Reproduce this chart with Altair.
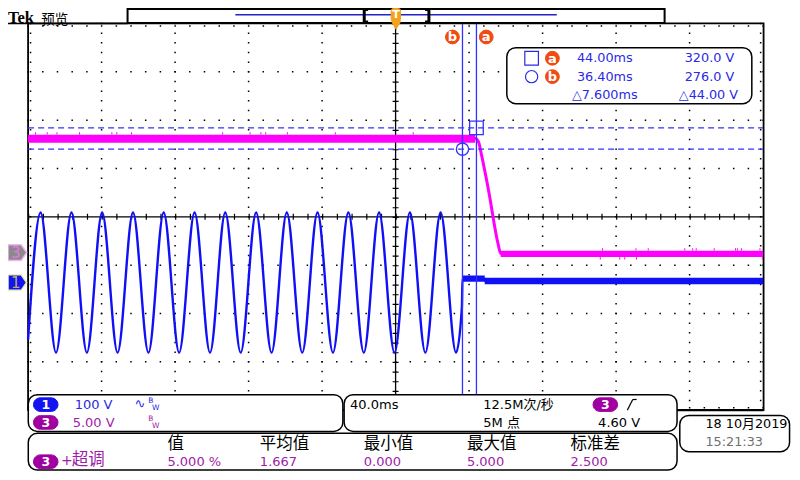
import altair as alt
import pandas as pd

# ------------------------------------------------------------------ data
# Channel 1 (blue, 100 V/div): sine read peak by peak, then the flat level after the cut
ch1_t = [-200.0, -193.2, -184.8, -176.4, -168.0, -159.7, -151.3, -142.9, -134.5,
         -126.2, -117.8, -109.4, -101.0, -92.7, -84.3, -75.9, -67.5, -59.2, -50.8,
         -42.5, -34.1, -25.7, -17.3, -9.0, -0.6, 7.8, 16.2, 24.5, 32.9, 36.1,
         36.4, 48.5, 48.7, 200.0]
ch1_v = [-118, 145, -145, 145, -145, 145, -145, 145, -145,
         145, -145, 145, -145, 145, -145, 145, -145, 145, -145,
         145, -145, 145, -145, 145, -145, 145, -145, 145, -145, -50,
         8, 8, 3, 3]
# noisy flat part of channel 1 (band)
ch1_band_t0 = [36.4, 48.5]
ch1_band_t1 = [48.5, 200.0]
ch1_band_lo = [1.4, -3.4]
ch1_band_hi = [14.6, 10.0]

# Channel 3 (magenta, 5 V/div)
ch3_t = [-200.0, 43.3, 45.1, 46.9, 50.4, 55.7, 57.2, 200.0]
ch3_v = [11.8, 11.8, 11.47, 9.97, 6.63, 0.97, -0.1, -0.1]
ch3_band_t0 = [-200.0, 57.2]
ch3_band_t1 = [43.3, 200.0]
ch3_band_lo = [11.35, -0.47]
ch3_band_hi = [12.2, 0.2]
ch3_spike_t = [-196.0, -189.6, -184.3, -172.0, -154.4, -151.7, -143.7, -94.1, -79.2,
               -73.3, -70.7, -58.9, -32.8, 9.6,
               112.6, 130.8, 137.5, 157.4, 161.7, 163.6, 173.4, 185.0, 186.0, 188.2, 198.3,
               111.4, 122.0, 124.7, 131.1, 199.6]
ch3_spike_v0 = [12.2] * 14 + [0.2] * 11 + [-0.47] * 5
ch3_spike_v1 = [12.45] * 14 + [0.45] * 11 + [-0.72] * 5

# cursors
cursor_name = ["a", "b"]
cursor_t = [44.0, 36.4]
cursor_v = [320.0, 276.0]
readout_time = ["44.00ms", "36.40ms", "\u25b37.600ms"]
readout_volt = ["320.0 V", "276.0 V", "\u25b344.00 V"]

# graticule
grid_t = [-160, -120, -80, -40, 40, 80, 120, 160]
grid_div = [-3, -2, -1, 1, 2, 3]

# measurement table
meas_headers = ["值", "平均值", "最小值", "最大值", "标准差"]
meas_values = ["5.000 %", "1.667", "0.000", "5.000", "2.500"]

# ------------------------------------------------------------------ layout
W, H = 784, 464
SX, SY = W / 800, H / 480
X0_REF, PX_PER_MS = 395.5, 75 / 40.0
T_DOM = [(0 - X0_REF) / PX_PER_MS, (800 - X0_REF) / PX_PER_MS]
DIV_Y0 = 216
DIV_DOM = [(DIV_Y0 - 480) / 50.0, DIV_Y0 / 50.0]
CH1_GND, CH1_VPD = 284, 100.0
CH1_DOM = [(CH1_GND - 480) / 50.0 * CH1_VPD, CH1_GND / 50.0 * CH1_VPD]
CH3_GND, CH3_VPD = 253, 5.0
CH3_DOM = [(CH3_GND - 480) / 50.0 * CH3_VPD, CH3_GND / 50.0 * CH3_VPD]

BLUE = "#1010f6"
MAG = "#ff00ff"
CUR = "#3232ff"
TXTB = "#2a2ae6"
ORG = "#ef4b12"
TORG = "#f4a11c"
PUR = "#a01ca8"
PILLP = "#a000a0"
PILLB = "#1414f0"
SANS = "DejaVu Sans, Noto Sans CJK SC"
CJK = "Noto Sans CJK SC"


def px(x):
    return x * SX


def py(y):
    return y * SY


def xs(field):
    return alt.X(field, type="quantitative",
                 scale=alt.Scale(domain=T_DOM, nice=False, zero=False), axis=None)


def ys(field, dom):
    return alt.Y(field, type="quantitative",
                 scale=alt.Scale(domain=dom, nice=False, zero=False), axis=None)


ONE = pd.DataFrame({"d": [0]})


def text(x, y, s, color="black", size=12.5, align="left", font=SANS, weight="normal"):
    return alt.Chart(ONE).mark_text(
        align=align, baseline="middle", fontSize=size, font=font,
        fontWeight=weight, color=color
    ).encode(x=alt.value(px(x)), y=alt.value(py(y)), text=alt.value(s))


def box(x1, y1, x2, y2, r=0, stroke="black", fill="white", sw=1.5, fo=1.0):
    return alt.Chart(ONE).mark_rect(
        cornerRadius=r, stroke=stroke, fill=fill, strokeWidth=sw, fillOpacity=fo
    ).encode(x=alt.value(px(x1)), x2=alt.value(px(x2)),
             y=alt.value(py(y1)), y2=alt.value(py(y2)))


def seg(x1, y1, x2, y2, color="black", sw=1.0, dash=None):
    kw = dict(color=color, strokeWidth=sw)
    if dash:
        kw["strokeDash"] = dash
    return alt.Chart(ONE).mark_rule(**kw).encode(
        x=alt.value(px(x1)), x2=alt.value(px(x2)),
        y=alt.value(py(y1)), y2=alt.value(py(y2)))


def dot(x, y, size, color, shape="circle", filled=True, sw=1.0, stroke=None):
    kw = dict(shape=shape, size=size, filled=filled, opacity=1, strokeWidth=sw)
    if filled:
        kw["fill"] = color
        kw["stroke"] = stroke if stroke else color
    else:
        kw["stroke"] = color
        kw["fill"] = "transparent"
    return alt.Chart(ONE).mark_point(**kw).encode(
        x=alt.value(px(x)), y=alt.value(py(y)))


layers = []

# ---------------- graticule
DV = 50 * SY / 5
DH = 75 * SX / 5
DOT = 1.5
layers.append(alt.Chart(pd.DataFrame({"t": grid_t})).mark_rule(
    color="black", strokeWidth=DOT, strokeDash=[DOT, DV - DOT]).encode(
    x=xs("t"), y=alt.value(py(16) - DOT / 2), y2=alt.value(py(416))))
layers.append(alt.Chart(pd.DataFrame({"d": grid_div})).mark_rule(
    color="black", strokeWidth=DOT, strokeDash=[DOT, DH - DOT]).encode(
    y=ys("d", DIV_DOM), x=alt.value(px(20.5) - DOT / 2), x2=alt.value(px(770.5))))
# inner edge ticks
layers.append(seg(23, 16 - 0.7, 23, 416, sw=DOT, dash=[DOT, DV - DOT]))
layers.append(seg(768, 16 - 0.7, 768, 416, sw=DOT, dash=[DOT, DV - DOT]))
layers.append(seg(20.5 - 0.7, 18.5, 770.5, 18.5, sw=DOT, dash=[DOT, DH - DOT]))
layers.append(seg(20.5 - 0.7, 413.5, 770.5, 413.5, sw=DOT, dash=[DOT, DH - DOT]))
# centre cross with ticks
ctr = pd.DataFrame({"t": [0.0], "d": [0.0], "t0": [-200.0], "t1": [200.0]})
layers.append(alt.Chart(ctr).mark_rule(color="black", strokeWidth=1.3).encode(
    y=ys("d", DIV_DOM), x=xs("t0"), x2="t1"))
layers.append(alt.Chart(ctr).mark_rule(color="black", strokeWidth=6, strokeDash=[1.2, DH - 1.2]).encode(
    y=ys("d", DIV_DOM), x=xs("t0"), x2="t1"))
layers.append(alt.Chart(ctr).mark_rule(color="black", strokeWidth=1.3).encode(
    x=xs("t"), y=alt.value(py(16)), y2=alt.value(py(416))))
layers.append(alt.Chart(ctr).mark_rule(color="black", strokeWidth=6, strokeDash=[1.2, DV - 1.2]).encode(
    x=xs("t"), y=alt.value(py(16)), y2=alt.value(py(416))))
# frame
layers.append(box(20.5, 16, 771, 416, fill="white", fo=0, sw=1.8))

# ---------------- traces
ch1 = pd.DataFrame({"t": ch1_t, "v": ch1_v})
ch1b = pd.DataFrame({"t0": ch1_band_t0, "t1": ch1_band_t1, "lo": ch1_band_lo, "hi": ch1_band_hi})
ch3 = pd.DataFrame({"t": ch3_t, "v": ch3_v})
ch3b = pd.DataFrame({"t0": ch3_band_t0, "t1": ch3_band_t1, "lo": ch3_band_lo, "hi": ch3_band_hi})
ch3s = pd.DataFrame({"t": ch3_spike_t, "v0": ch3_spike_v0, "v1": ch3_spike_v1})

layers.append(alt.Chart(ch1).mark_line(color=BLUE, strokeWidth=2.4, interpolate="monotone").encode(
    x=xs("t"), y=ys("v", CH1_DOM), order="t"))
layers.append(alt.Chart(ch1b).mark_rect(color=BLUE).encode(
    x=xs("t0"), x2="t1", y=ys("lo", CH1_DOM), y2="hi"))
layers.append(alt.Chart(ch3b).mark_rect(color=MAG).encode(
    x=xs("t0"), x2="t1", y=ys("lo", CH3_DOM), y2="hi"))
layers.append(alt.Chart(ch3s).mark_rule(color=MAG, strokeWidth=1).encode(
    x=xs("t"), y=ys("v0", CH3_DOM), y2="v1"))
layers.append(alt.Chart(ch3).mark_line(color=MAG, strokeWidth=3, interpolate="monotone").encode(
    x=xs("t"), y=ys("v", CH3_DOM), order="t"))

# ---------------- cursors
cur = pd.DataFrame({"name": cursor_name, "t": cursor_t, "v": cursor_v,
                    "t0": [-200.0, -200.0], "t1": [200.0, 200.0]})
layers.append(alt.Chart(cur).mark_rule(color=CUR, strokeWidth=1.3).encode(
    x=xs("t"), y=alt.value(py(16)), y2=alt.value(py(416))))
layers.append(alt.Chart(cur).mark_rule(color=CUR, strokeWidth=1.3, strokeDash=[6, 4]).encode(
    y=ys("v", CH1_DOM), x=xs("t0"), x2="t1"))
layers.append(alt.Chart(cur[cur.name == "a"]).mark_point(
    shape="square", size=185, filled=False, color=CUR, strokeWidth=1.3, opacity=1).encode(
    x=xs("t"), y=ys("v", CH1_DOM)))
layers.append(alt.Chart(cur[cur.name == "b"]).mark_point(
    shape="circle", size=150, filled=False, color=CUR, strokeWidth=1.3, opacity=1).encode(
    x=xs("t"), y=ys("v", CH1_DOM)))

# cursor labels on top
for lx, lab in [(453.5, "b"), (488, "a")]:
    layers.append(dot(lx, 30, 190, ORG))
    layers.append(text(lx, 30.5, lab, color="white", size=13, align="center", weight="bold"))

# readout box
layers.append(box(509, 41, 759, 99, r=9, sw=1.5))
layers.append(dot(534.3, 52, 185, TXTB, shape="square", filled=False, sw=1.2))
layers.append(dot(534.3, 71, 150, TXTB, shape="circle", filled=False, sw=1.2))
for ry, lab in [(52, "a"), (71, "b")]:
    layers.append(dot(555.5, ry, 190, ORG))
    layers.append(text(555.5, ry + 0.5, lab, color="white", size=13, align="center", weight="bold"))
for i, ry in enumerate([52, 71, 90]):
    layers.append(text(609, ry, readout_time[i], color=TXTB, size=12.8, align="center"))
    layers.append(text(741 if i < 2 else 745, ry, readout_volt[i], color=TXTB, size=12.8, align="right"))

# ---------------- top bar
layers.append(seg(0, 16, 122, 16, sw=1.6))
layers.append(box(122, 1, 670, 15.5, sw=2))
layers.append(seg(232, 7, 560, 7, color="#2323c8", sw=1.5))
for bx, d in [(363.5, 1), (429.5, -1)]:
    layers.append(seg(bx, 1, bx, 15, sw=3))
    layers.append(seg(bx, 2, bx + 4 * d, 2, sw=2))
    layers.append(seg(bx, 14, bx + 4 * d, 14, sw=2))
layers.append(box(391, 0.5, 400.5, 14, r=2, stroke=TORG, fill=TORG, sw=1))
layers.append(text(395.8, 7.5, "T", color="white", size=11, align="center", weight="bold"))
layers.append(dot(396, 18, 75, TORG, shape="triangle-down"))
layers.append(text(0, 10.8, "Tek", size=16.5, font="Liberation Serif", weight="bold"))
layers.append(text(34, 12.2, "预览", size=13.5, font=CJK))

# ---------------- ground markers
gshape = "M-1,-0.84L0.42,-0.84L1,0L0.42,0.84L-1,0.84Z"
gnd = pd.DataFrame({"v": [0.0]})
layers.append(alt.Chart(gnd).mark_point(shape=gshape, size=346, filled=True, fill="#8a8a8a",
                                        stroke="#f2b4f2", strokeWidth=1.5, opacity=1).encode(
    x=alt.value(px(9.5)), y=ys("v", CH3_DOM)))
layers.append(alt.Chart(gnd).mark_text(fontSize=15, font="DejaVu Sans", color="#e27ae2",
                                       align="center", baseline="middle").encode(
    x=alt.value(px(8)), y=ys("v", CH3_DOM), text=alt.value("3")))
layers.append(alt.Chart(gnd).mark_point(shape=gshape, size=346, filled=True, fill=PILLB,
                                        stroke="#eeeeb0", strokeWidth=1.5, opacity=1).encode(
    x=alt.value(px(9.5)), y=ys("v", CH1_DOM)))
layers.append(alt.Chart(gnd).mark_text(fontSize=15, font="DejaVu Sans", color="#b4b070",
                                       align="center", baseline="middle").encode(
    x=alt.value(px(8)), y=ys("v", CH1_DOM), text=alt.value("1")))


# ---------------- bottom panels
def pill(x1, yc, lab, fill):
    return [box(x1, yc - 7, x1 + 25, yc + 7, r=7, stroke=fill, fill=fill, sw=1),
            text(x1 + 12.5, yc + 0.5, lab, color="white", size=12.5, align="center", weight="bold")]


layers.append(box(20.7, 400, 341.7, 438, r=9, sw=1.5))
layers += pill(26, 410.3, "1", PILLB)
layers.append(text(68, 410.5, "100 V", color=TXTB, size=13))
layers.append(text(129, 410, "\u223f", color=TXTB, size=13))
layers.append(text(143, 406.5, "B", color=TXTB, size=7.5))
layers.append(text(147, 413.5, "W", color=TXTB, size=7.5))
layers += pill(26, 428.7, "3", PILLP)
layers.append(text(66, 429, "5.00 V", color=PUR, size=13))
layers.append(text(143, 425, "B", color=PUR, size=7.5))
layers.append(text(147, 432, "W", color=PUR, size=7.5))

layers.append(box(343, 400, 682.7, 438, r=9, sw=1.5))
layers.append(text(349, 411, "40.0ms", size=13))
layers.append(text(485, 411, "12.5M次/秒", size=13))
layers.append(text(485, 429, "5M 点", size=13))
layers += pill(597, 410.3, "3", PILLP)
layers.append(seg(632, 416, 637.5, 405, sw=1.2))
layers.append(seg(637.5, 405, 641.5, 405, sw=1.2))
layers.append(text(645, 429, "4.60 V", size=13, align="right"))

layers.append(box(20.7, 440, 682.7, 478, r=9, sw=1.5))
layers += pill(26, 469.3, "3", PILLP)
layers.append(text(54, 468.5, "+", color=PUR, size=14))
layers.append(text(65, 468, "超调", color=PUR, size=16.5, font=CJK))
for hx, hname, val in zip([162.7, 257, 363, 468.3, 574], meas_headers, meas_values):
    layers.append(text(hx, 451.5, hname, size=16.5, font=CJK))
    layers.append(text(hx, 469.5, val, color=PUR, size=13))

layers.append(seg(683, 416, 771, 416, sw=2.2))
layers.append(box(685.5, 421.5, 797.5, 459, r=9, sw=1.5))
layers.append(text(711.7, 430, "18 10月2019", size=12.8))
layers.append(text(711.7, 448.5, "15:21:33", color="#707070", size=12.8))

chart = alt.layer(*layers).properties(
    width=W, height=H, padding=0, autosize="none", background="white"
).resolve_scale(x="independent", y="independent").configure_view(stroke=None)

chart.save("out.html", embed_options={"renderer": "svg", "actions": False})
